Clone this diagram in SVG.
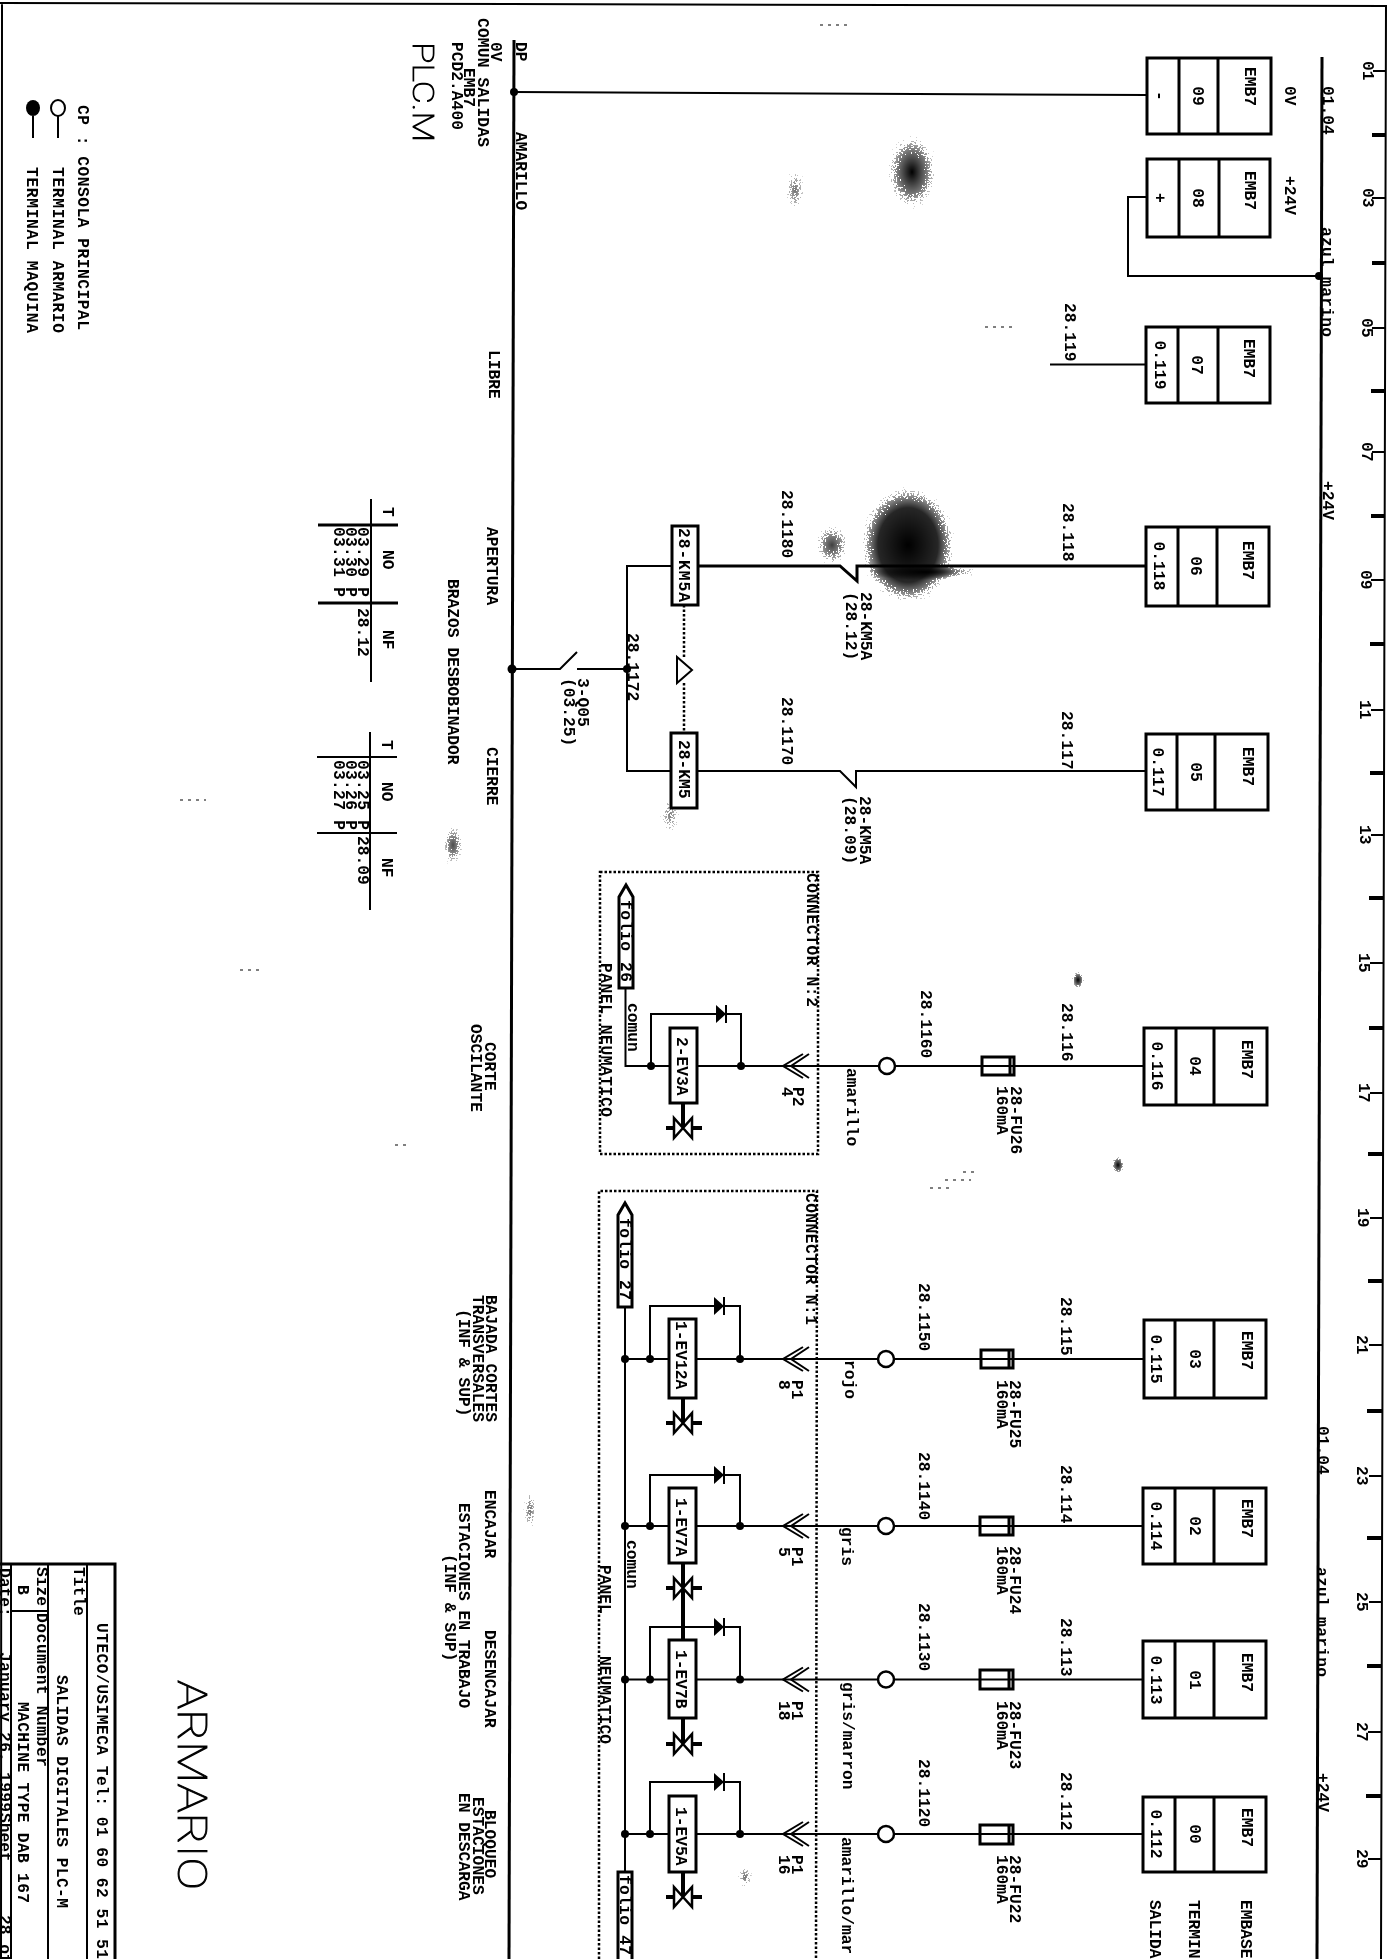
<svg xmlns="http://www.w3.org/2000/svg" width="1390" height="1959" viewBox="0 0 1390 1959">
<style>
text{font-family:"Liberation Mono","DejaVu Sans Mono",monospace;font-size:16.3px;font-weight:700;fill:#000}
.m{text-anchor:middle}
.thin{font-family:Roboto,"Liberation Sans",sans-serif;font-weight:100;stroke:#000;stroke-width:.9px}
path,line,rect,polygon,circle,ellipse{stroke:#000;fill:none}
.w{stroke-width:2}
.h{stroke-width:3}
.tk{stroke-width:4}
.bx{stroke-width:3;fill:#fff}
.d{stroke-width:2.5;stroke-dasharray:2.5 2}
.dot{fill:#000;stroke:none}
.ring{fill:#fff;stroke-width:2.5}
.bl{fill:#000;stroke:none}
.sp{stroke:none}
.n{stroke-width:1.2;stroke-dasharray:3 5}
</style>
<defs>
<radialGradient id="g"><stop offset="0" stop-color="#000" stop-opacity="1"/><stop offset=".5" stop-color="#000" stop-opacity=".55"/><stop offset="1" stop-color="#000" stop-opacity="0"/></radialGradient>
<radialGradient id="g2"><stop offset="0" stop-color="#000" stop-opacity="1"/><stop offset=".6" stop-color="#000" stop-opacity=".85"/><stop offset="1" stop-color="#000" stop-opacity="0"/></radialGradient>
<filter id="speck" x="-10%" y="-10%" width="120%" height="120%" color-interpolation-filters="sRGB">
<feTurbulence type="fractalNoise" baseFrequency="0.55" numOctaves="2" seed="4" result="n"/>
<feComposite in="SourceAlpha" in2="n" operator="arithmetic" k1="0" k2="1" k3="1" k4="0" result="a"/>
<feComponentTransfer in="a"><feFuncR type="linear" slope="0"/><feFuncG type="linear" slope="0"/><feFuncB type="linear" slope="0"/><feFuncA type="discrete" tableValues="0 0 0 0 0 0 0 0 0 1"/></feComponentTransfer>
<feComposite in2="SourceAlpha" operator="in"/>
</filter>
<g id="valve"><line class="tk" x1="-17" y1="0" x2="19" y2="0"/><polygon points="-9,-10 9,10 9,-10 -9,10" fill="#fff" stroke-width="2.5" style="fill:#fff"/></g>
<g id="chev"><path class="w" d="M20,-12 L0,0 L20,12 M26,-12 L8,0 L26,12"/></g>
</defs>
<rect width="1390" height="1959" style="fill:#fff;stroke:none"/>

<g id="speckle" filter="url(#speck)">
<ellipse class="sp" cx="912" cy="172" rx="28" ry="42" style="fill:url(#g)"/>
<ellipse class="sp" cx="908" cy="545" rx="50" ry="62" style="fill:url(#g2)"/>
<ellipse class="sp" cx="925" cy="572" rx="60" ry="8" style="fill:url(#g)"/>
<ellipse class="sp" cx="832" cy="545" rx="20" ry="24" style="fill:url(#g);opacity:.75"/>
<ellipse class="sp" cx="453" cy="845" rx="12" ry="24" style="fill:url(#g);opacity:.7"/>
<ellipse class="sp" cx="1078" cy="980" rx="7" ry="10" style="fill:url(#g)"/>
<ellipse class="sp" cx="1118" cy="1165" rx="7" ry="10" style="fill:url(#g)"/>
<ellipse class="sp" cx="795" cy="190" rx="12" ry="26" style="fill:url(#g);opacity:.55"/>
<ellipse class="sp" cx="670" cy="815" rx="12" ry="24" style="fill:url(#g);opacity:.5"/>
<ellipse class="sp" cx="530" cy="1510" rx="8" ry="26" style="fill:url(#g);opacity:.55"/>
<ellipse class="sp" cx="745" cy="1877" rx="9" ry="14" style="fill:url(#g);opacity:.55"/>
</g>
<g id="specks">
<path class="n" d="M820,25h30M985,327h30M930,1188h22M945,1180h26M963,1172h12M180,800h26M240,970h22M395,1145h12"/>
</g>

<g id="frame">
<path class="w" d="M0,3 L1387,6 M2,3 L1,1959 M1386,5 L1381,1959"/>
<g id="ruler">
<path class="w" d="M1373,71H1386M1372,198H1385M1372,328H1385M1372,452H1385M1371,580H1384M1371,710H1384M1371,835H1384M1370,963H1383M1370,1093H1383M1370,1218H1383M1369,1345H1382M1369,1476H1382M1369,1602H1382M1368,1732H1381M1368,1859H1381"/>
<path class="tk" d="M1372,135H1386M1372,263H1385M1371,391H1385M1371,516H1385M1370,644H1384M1370,773H1384M1369,898H1384M1369,1028H1383M1368,1154H1383M1368,1281H1383M1367,1411H1382M1367,1538H1382M1367,1666H1382M1366,1796H1381"/>
<text x="1363" y="61" transform="rotate(90 1363 61)">01</text>
<text x="1363" y="188" transform="rotate(90 1363 188)">03</text>
<text x="1362" y="318" transform="rotate(90 1362 318)">05</text>
<text x="1362" y="442" transform="rotate(90 1362 442)">07</text>
<text x="1361" y="570" transform="rotate(90 1361 570)">09</text>
<text x="1360" y="700" transform="rotate(90 1360 700)">11</text>
<text x="1360" y="825" transform="rotate(90 1360 825)">13</text>
<text x="1359" y="953" transform="rotate(90 1359 953)">15</text>
<text x="1359" y="1083" transform="rotate(90 1359 1083)">17</text>
<text x="1358" y="1208" transform="rotate(90 1358 1208)">19</text>
<text x="1357" y="1335" transform="rotate(90 1357 1335)">21</text>
<text x="1357" y="1466" transform="rotate(90 1357 1466)">23</text>
<text x="1357" y="1592" transform="rotate(90 1357 1592)">25</text>
<text x="1357" y="1722" transform="rotate(90 1357 1722)">27</text>
<text x="1357" y="1849" transform="rotate(90 1357 1849)">29</text>
</g>
</g>

<g id="connectors">
<path class="h" d="M1322,57 L1317,1959"/>
<path class="h" d="M514,40 L509,1959"/>
<path class="w" d="M514,92 L1147,95"/>
<path class="w" d="M1319,276 H1128 V197 H1147"/>
<path class="w" d="M1050,364.5 H1146"/>
<path class="h" d="M1146,566 H857 V581 L840,566 H698"/>
<path class="w" d="M672,566 H627 V771 H671"/>
<path class="w" d="M1146,771 H856 V787 L840,771 H697"/>
<path class="w" d="M511,669 H560 L577,652 M577,669 H627"/>
<path class="d" d="M684,605 V657 M684,683 V733"/>
<polygon class="w" points="677,657 677,683 692,670"/>
<path class="w" d="M1144,1066 H783 M1144,1359 H783 M1143,1526 H783 M1143,1679.5 H783 M1143,1834 H783"/>
<path class="w" d="M783,1066 H625.5 V988"/>
<path class="w" d="M625,1307 V1872"/>
<path class="w" d="M783,1359 H625 M783,1526 H625 M783,1679.5 H625 M783,1834 H625"/>
<path class="w" d="M651,1066 V1014 H741 V1066 M650,1359 V1306 H740 V1359 M650,1526 V1475 H740 V1526 M650,1679.5 V1627 H740 V1679.5 M650,1834 V1782 H740 V1834"/>
<path class="tk" d="M683,1103V1128 M683,1398V1423 M683,1563V1640 M683,1718V1744 M683,1872V1897"/>
<path class="d" d="M600,872 H818 V1154 H600 Z"/>
<path class="d" d="M599,1959 V1191 H817 L816,1959"/>
</g>

<g id="node-09"><rect class="bx" x="1147" y="58" width="124" height="76"/><path class="h" d="M1179,58V134M1218,58V134"/><text x="1155" y="96" class="m" transform="rotate(90 1155 96)">-</text><text x="1193" y="96" class="m" transform="rotate(90 1193 96)">09</text><text x="1245" y="67" transform="rotate(90 1245 67)">EMB7</text></g>
<g id="node-08"><rect class="bx" x="1147" y="159" width="123" height="78"/><path class="h" d="M1179,159V237M1219,159V237"/><text x="1155" y="198" class="m" transform="rotate(90 1155 198)">+</text><text x="1193" y="198" class="m" transform="rotate(90 1193 198)">08</text><text x="1245" y="171" transform="rotate(90 1245 171)">EMB7</text></g>
<g id="node-07"><rect class="bx" x="1146" y="327" width="124" height="76"/><path class="h" d="M1178,327V403M1218,327V403"/><text x="1155" y="365" class="m" transform="rotate(90 1155 365)">0.119</text><text x="1192" y="365" class="m" transform="rotate(90 1192 365)">07</text><text x="1244" y="339" transform="rotate(90 1244 339)">EMB7</text></g>
<g id="node-06"><rect class="bx" x="1146" y="527" width="123" height="79"/><path class="h" d="M1178,527V606M1217,527V606"/><text x="1154" y="566" class="m" transform="rotate(90 1154 566)">0.118</text><text x="1191" y="566" class="m" transform="rotate(90 1191 566)">06</text><text x="1243" y="541" transform="rotate(90 1243 541)">EMB7</text></g>
<g id="node-05"><rect class="bx" x="1146" y="734" width="122" height="76"/><path class="h" d="M1177,734V810M1215,734V810"/><text x="1153" y="772" class="m" transform="rotate(90 1153 772)">0.117</text><text x="1191" y="772" class="m" transform="rotate(90 1191 772)">05</text><text x="1243" y="747" transform="rotate(90 1243 747)">EMB7</text></g>
<g id="node-04"><rect class="bx" x="1144" y="1028" width="123" height="77"/><path class="h" d="M1176,1028V1105M1214,1028V1105"/><text x="1152" y="1066" class="m" transform="rotate(90 1152 1066)">0.116</text><text x="1190" y="1066" class="m" transform="rotate(90 1190 1066)">04</text><text x="1242" y="1040" transform="rotate(90 1242 1040)">EMB7</text></g>
<g id="node-03"><rect class="bx" x="1144" y="1320" width="122" height="78"/><path class="h" d="M1175,1320V1398M1214,1320V1398"/><text x="1151" y="1359" class="m" transform="rotate(90 1151 1359)">0.115</text><text x="1190" y="1359" class="m" transform="rotate(90 1190 1359)">03</text><text x="1242" y="1331" transform="rotate(90 1242 1331)">EMB7</text></g>
<g id="node-02"><rect class="bx" x="1143" y="1488" width="123" height="76"/><path class="h" d="M1175,1488V1564M1214,1488V1564"/><text x="1151" y="1526" class="m" transform="rotate(90 1151 1526)">0.114</text><text x="1190" y="1526" class="m" transform="rotate(90 1190 1526)">02</text><text x="1242" y="1499" transform="rotate(90 1242 1499)">EMB7</text></g>
<g id="node-01"><rect class="bx" x="1143" y="1641" width="123" height="77"/><path class="h" d="M1175,1641V1718M1214,1641V1718"/><text x="1151" y="1680" class="m" transform="rotate(90 1151 1680)">0.113</text><text x="1190" y="1680" class="m" transform="rotate(90 1190 1680)">01</text><text x="1242" y="1653" transform="rotate(90 1242 1653)">EMB7</text></g>
<g id="node-00"><rect class="bx" x="1143" y="1797" width="123" height="75"/><path class="h" d="M1175,1797V1872M1214,1797V1872"/><text x="1151" y="1834" class="m" transform="rotate(90 1151 1834)">0.112</text><text x="1190" y="1834" class="m" transform="rotate(90 1190 1834)">00</text><text x="1242" y="1808" transform="rotate(90 1242 1808)">EMB7</text></g>

<g id="fuses">
<rect class="bx" x="982" y="1057" width="32" height="18"/><path class="h" d="M1010,1057V1075"/>
<rect class="bx" x="981" y="1350" width="32" height="18"/><path class="h" d="M1009,1350V1368"/>
<rect class="bx" x="980" y="1517" width="33" height="18"/><path class="h" d="M1009,1517V1535"/>
<rect class="bx" x="980" y="1670" width="33" height="19"/><path class="h" d="M1009,1670V1689"/>
<rect class="bx" x="980" y="1825" width="33" height="19"/><path class="h" d="M1009,1825V1844"/>
<path class="w" d="M982,1066H1014M981,1359H1013M980,1526H1013M980,1679.5H1013M980,1834H1013"/>
<text x="1011" y="1086" transform="rotate(90 1011 1086)">28-FU26</text><text x="997" y="1086" transform="rotate(90 997 1086)">160mA</text>
<text x="1010" y="1380" transform="rotate(90 1010 1380)">28-FU25</text><text x="997" y="1380" transform="rotate(90 997 1380)">160mA</text>
<text x="1010" y="1546" transform="rotate(90 1010 1546)">28-FU24</text><text x="997" y="1546" transform="rotate(90 997 1546)">160mA</text>
<text x="1010" y="1701" transform="rotate(90 1010 1701)">28-FU23</text><text x="997" y="1701" transform="rotate(90 997 1701)">160mA</text>
<text x="1010" y="1855" transform="rotate(90 1010 1855)">28-FU22</text><text x="997" y="1855" transform="rotate(90 997 1855)">160mA</text>
</g>

<g id="terminals">
<circle class="ring" cx="887" cy="1066" r="8"/><circle class="ring" cx="886" cy="1359" r="8"/><circle class="ring" cx="886" cy="1526" r="8"/><circle class="ring" cx="886" cy="1679.5" r="8"/><circle class="ring" cx="886" cy="1834" r="8"/>
<use href="#chev" x="783" y="1066"/><use href="#chev" x="783" y="1359"/><use href="#chev" x="783" y="1526"/><use href="#chev" x="783" y="1679.5"/><use href="#chev" x="783" y="1834"/>
</g>

<g id="dots">
<circle class="dot" cx="1319" cy="276" r="4"/><circle class="dot" cx="514" cy="92" r="4"/><circle class="dot" cx="512" cy="669" r="4.5"/><circle class="dot" cx="627" cy="669" r="4"/>
<circle class="dot" cx="741" cy="1066" r="4"/><circle class="dot" cx="651" cy="1066" r="4"/>
<circle class="dot" cx="740" cy="1359" r="4"/><circle class="dot" cx="650" cy="1359" r="4"/><circle class="dot" cx="625" cy="1359" r="4"/>
<circle class="dot" cx="740" cy="1526" r="4"/><circle class="dot" cx="650" cy="1526" r="4"/><circle class="dot" cx="625" cy="1526" r="4"/>
<circle class="dot" cx="740" cy="1679.5" r="4"/><circle class="dot" cx="650" cy="1679.5" r="4"/><circle class="dot" cx="625" cy="1679.5" r="4"/>
<circle class="dot" cx="740" cy="1834" r="4"/><circle class="dot" cx="650" cy="1834" r="4"/><circle class="dot" cx="625" cy="1834" r="4"/>
</g>

<g id="coil-km5a"><rect class="bx" x="672" y="526" width="26" height="79"/><text x="679" y="528" transform="rotate(90 679 528)" textLength="74">28-KM5A</text></g>
<g id="coil-km5"><rect class="bx" x="671" y="733" width="26" height="75"/><text x="679" y="740" transform="rotate(90 679 740)">28-KM5</text></g>
<g id="ev-2ev3a"><rect class="bx" x="670" y="1028" width="27" height="75"/><text x="677" y="1037" transform="rotate(90 677 1037)">2-EV3A</text><polygon class="bl" points="716,1005 726,1014 716,1023"/><path class="w" d="M726,1005V1023"/><use href="#valve" x="683" y="1128"/></g>
<g id="ev-1ev12a"><rect class="bx" x="669" y="1319" width="27" height="79"/><text x="676" y="1321" transform="rotate(90 676 1321)">1-EV12A</text><polygon class="bl" points="714,1297 724,1306 714,1315"/><path class="w" d="M724,1297V1315"/><use href="#valve" x="683" y="1423"/></g>
<g id="ev-1ev7a"><rect class="bx" x="669" y="1488" width="27" height="75"/><text x="676" y="1498" transform="rotate(90 676 1498)">1-EV7A</text><polygon class="bl" points="714,1466 724,1475 714,1484"/><path class="w" d="M724,1466V1484"/><use href="#valve" x="683" y="1588"/></g>
<g id="ev-1ev7b"><rect class="bx" x="669" y="1640" width="27" height="78"/><text x="676" y="1650" transform="rotate(90 676 1650)">1-EV7B</text><polygon class="bl" points="714,1618 724,1627 714,1636"/><path class="w" d="M724,1618V1636"/><use href="#valve" x="683" y="1744"/></g>
<g id="ev-1ev5a"><rect class="bx" x="669" y="1796" width="27" height="76"/><text x="676" y="1807" transform="rotate(90 676 1807)">1-EV5A</text><polygon class="bl" points="714,1773 724,1782 714,1791"/><path class="w" d="M724,1773V1791"/><use href="#valve" x="683" y="1897"/></g>

<g id="folio-26"><polygon class="bx" points="619,988 619,897 626,885 633,897 633,988"/><text x="621" y="900" transform="rotate(90 621 900)" textLength="82">folio 26</text></g>
<g id="folio-27"><polygon class="bx" points="618,1307 618,1215 625,1203 632,1215 632,1307"/><text x="620" y="1218" transform="rotate(90 620 1218)" textLength="82">folio 27</text></g>
<g id="folio-47"><path class="bx" d="M618,1959 V1872 H632 V1959"/><text x="620" y="1875" transform="rotate(90 620 1875)" textLength="80">folio 47</text></g>

<g id="labels">
<text x="1065" y="303" transform="rotate(90 1065 303)">28.119</text>
<text x="1063" y="503" transform="rotate(90 1063 503)">28.118</text>
<text x="1062" y="711" transform="rotate(90 1062 711)">28.117</text>
<text x="1062" y="1003" transform="rotate(90 1062 1003)">28.116</text>
<text x="1061" y="1297" transform="rotate(90 1061 1297)">28.115</text>
<text x="1061" y="1465" transform="rotate(90 1061 1465)">28.114</text>
<text x="1061" y="1618" transform="rotate(90 1061 1618)">28.113</text>
<text x="1061" y="1772" transform="rotate(90 1061 1772)">28.112</text>
<text x="782" y="490" transform="rotate(90 782 490)">28.1180</text>
<text x="782" y="697" transform="rotate(90 782 697)">28.1170</text>
<text x="921" y="990" transform="rotate(90 921 990)">28.1160</text>
<text x="919" y="1283" transform="rotate(90 919 1283)">28.1150</text>
<text x="919" y="1452" transform="rotate(90 919 1452)">28.1140</text>
<text x="919" y="1603" transform="rotate(90 919 1603)">28.1130</text>
<text x="919" y="1759" transform="rotate(90 919 1759)">28.1120</text>
<text x="628" y="633" transform="rotate(90 628 633)">28.1172</text>
<text x="578" y="678" transform="rotate(90 578 678)">3-Q05</text>
<text x="564" y="678" transform="rotate(90 564 678)">(03.25)</text>
<text x="861" y="592" transform="rotate(90 861 592)">28-KM5A</text>
<text x="846" y="592" transform="rotate(90 846 592)">(28.12)</text>
<text x="860" y="796" transform="rotate(90 860 796)">28-KM5A</text>
<text x="845" y="796" transform="rotate(90 845 796)">(28.09)</text>
<text x="807" y="873" transform="rotate(90 807 873)" textLength="134">CONNECTOR N:2</text>
<text x="806" y="1193" transform="rotate(90 806 1193)" textLength="132">CONNECTOR N:1</text>
<text x="601" y="963" transform="rotate(90 601 963)" textLength="154">PANEL NEUMATICO</text>
<text x="600" y="1565" transform="rotate(90 600 1565)">PANEL</text>
<text x="600" y="1656" transform="rotate(90 600 1656)">NEUMATICO</text>
<text x="628" y="1003" transform="rotate(90 628 1003)">comun</text>
<text x="627" y="1540" transform="rotate(90 627 1540)">comun</text>
<text x="793" y="1087" transform="rotate(90 793 1087)">P2</text><text x="782" y="1087" transform="rotate(90 782 1087)">4</text>
<text x="792" y="1380" transform="rotate(90 792 1380)">P1</text><text x="779" y="1380" transform="rotate(90 779 1380)">8</text>
<text x="792" y="1547" transform="rotate(90 792 1547)">P1</text><text x="779" y="1547" transform="rotate(90 779 1547)">5</text>
<text x="792" y="1701" transform="rotate(90 792 1701)">P1</text><text x="779" y="1701" transform="rotate(90 779 1701)">18</text>
<text x="792" y="1855" transform="rotate(90 792 1855)">P1</text><text x="779" y="1855" transform="rotate(90 779 1855)">16</text>
<text x="847" y="1068" transform="rotate(90 847 1068)">amarillo</text>
<text x="845" y="1360" transform="rotate(90 845 1360)">rojo</text>
<text x="842" y="1527" transform="rotate(90 842 1527)">gris</text>
<text x="843" y="1682" transform="rotate(90 843 1682)">gris/marron</text>
<text x="842" y="1837" transform="rotate(90 842 1837)">amarillo/mar</text>
<text x="1285" y="86" transform="rotate(90 1285 86)">0V</text>
<text x="1285" y="176" transform="rotate(90 1285 176)">+24V</text>
<text x="1323" y="86" transform="rotate(90 1323 86)">01.04</text>
<text x="1322" y="227" transform="rotate(90 1322 227)" textLength="110">azul marino</text>
<text x="1323" y="481" transform="rotate(90 1323 481)">+24V</text>
<text x="1318" y="1426" transform="rotate(90 1318 1426)">01.04</text>
<text x="1317" y="1567" transform="rotate(90 1317 1567)" textLength="110">azul marino</text>
<text x="1318" y="1773" transform="rotate(90 1318 1773)">+24V</text>
<text x="1241" y="1900" transform="rotate(90 1241 1900)">EMBASE</text>
<text x="1189" y="1900" transform="rotate(90 1189 1900)">TERMIN</text>
<text x="1150" y="1900" transform="rotate(90 1150 1900)">SALIDA</text>

<text x="516" y="42" transform="rotate(90 516 42)">DP</text>
<text x="516" y="132" transform="rotate(90 516 132)">AMARILLO</text>
<text x="491" y="42" transform="rotate(90 491 42)">0V</text>
<text x="477.5" y="18" transform="rotate(90 477.5 18)" textLength="129">COMUN SALIDAS</text>
<text x="464" y="68" transform="rotate(90 464 68)">EMB7</text>
<text x="452" y="42" transform="rotate(90 452 42)">PCD2.A400</text>
<text x="413" y="42" class="thin" style="font-size:30px" transform="rotate(90 413 42)" textLength="100" lengthAdjust="spacingAndGlyphs">PLC.M</text>
<text x="489" y="350" transform="rotate(90 489 350)">LIBRE</text>
<text x="487" y="527" transform="rotate(90 487 527)">APERTURA</text>
<text x="487" y="747" transform="rotate(90 487 747)">CIERRE</text>
<text x="448" y="579" transform="rotate(90 448 579)">BRAZOS DESBOBINADOR</text>
<text x="485" y="1042" transform="rotate(90 485 1042)">CORTE</text>
<text x="471" y="1024" transform="rotate(90 471 1024)">OSCILANTE</text>
<text x="486" y="1295" transform="rotate(90 486 1295)">BAJADA CORTES</text>
<text x="473" y="1295" transform="rotate(90 473 1295)">TRANSVERSALES</text>
<text x="459" y="1309" transform="rotate(90 459 1309)">(INF &amp; SUP)</text>
<text x="485" y="1490" transform="rotate(90 485 1490)">ENCAJAR</text>
<text x="459" y="1503" transform="rotate(90 459 1503)">ESTACIONES EN TRABAJO</text>
<text x="445" y="1554" transform="rotate(90 445 1554)">(INF &amp; SUP)</text>
<text x="485" y="1630" transform="rotate(90 485 1630)">DESENCAJAR</text>
<text x="485" y="1810" transform="rotate(90 485 1810)">BLOQUEO</text>
<text x="473" y="1797" transform="rotate(90 473 1797)">ESTACIONES</text>
<text x="459" y="1793" transform="rotate(90 459 1793)">EN DESCARGA</text>
<text x="178" y="1680" class="thin" style="font-size:40px" transform="rotate(90 178 1680)" textLength="210" lengthAdjust="spacingAndGlyphs">ARMARIO</text>
</g>

<g id="table-28-12">
<path class="w" d="M371,499V682"/><path class="h" d="M318,525H398M318,603H398"/>
<text x="383" y="507" transform="rotate(90 383 507)">T</text><text x="383" y="550" transform="rotate(90 383 550)">NO</text><text x="383" y="630" transform="rotate(90 383 630)">NF</text>
<text x="358" y="527" transform="rotate(90 358 527)" textLength="70">03.29 P</text><text x="346" y="527" transform="rotate(90 346 527)" textLength="70">03.30 P</text><text x="334" y="527" transform="rotate(90 334 527)" textLength="70">03.31 P</text>
<text x="358" y="608" transform="rotate(90 358 608)">28.12</text>
</g>
<g id="table-28-09">
<path class="w" d="M370,732V910"/><path class="w" d="M317,757H397M317,833H397"/>
<text x="382" y="740" transform="rotate(90 382 740)">T</text><text x="382" y="782" transform="rotate(90 382 782)">NO</text><text x="382" y="858" transform="rotate(90 382 858)">NF</text>
<text x="358" y="760" transform="rotate(90 358 760)" textLength="70">03.25 P</text><text x="346" y="760" transform="rotate(90 346 760)" textLength="70">03.26 P</text><text x="334" y="760" transform="rotate(90 334 760)" textLength="70">03.27 P</text>
<text x="358" y="836" transform="rotate(90 358 836)">28.09</text>
</g>

<g id="legend">
<text x="78" y="105" transform="rotate(90 78 105)" textLength="225">CP : CONSOLA PRINCIPAL</text>
<ellipse class="w" cx="58" cy="108" rx="7" ry="8"/><path class="w" d="M58,116V138"/>
<text x="53" y="167" transform="rotate(90 53 167)" textLength="166">TERMINAL ARMARIO</text>
<ellipse cx="33" cy="108" rx="7" ry="8" style="fill:#000;stroke:none"/><path class="w" d="M33,116V138"/>
<text x="27" y="167" transform="rotate(90 27 167)" textLength="166">TERMINAL MAQUINA</text>
</g>

<g id="title-block">
<path class="h" d="M0,1564H115V1959"/>
<path class="w" d="M87,1564V1959M48,1564V1959M11,1564V1959M11,1611H48"/>
<text x="97" y="1623" transform="rotate(90 97 1623)" textLength="336">UTECO/USIMECA Tel: 01 60 62 51 51</text>
<text x="74" y="1567" transform="rotate(90 74 1567)">Title</text>
<text x="57" y="1675" transform="rotate(90 57 1675)" textLength="233">SALIDAS DIGITALES PLC-M</text>
<text x="37" y="1567" transform="rotate(90 37 1567)">Size</text>
<text x="37" y="1613" transform="rotate(90 37 1613)" textLength="154">Document Number</text>
<text x="18" y="1585" transform="rotate(90 18 1585)">B</text>
<text x="18" y="1702" transform="rotate(90 18 1702)" textLength="201">MACHINE TYPE DAB 167</text>
<text x="0" y="1568" transform="rotate(90 0 1568)">Date:</text>
<text x="0" y="1652" transform="rotate(90 0 1652)" textLength="160">January 26, 1999</text>
<text x="0" y="1813" transform="rotate(90 0 1813)">Sheet</text>
<text x="0" y="1915" transform="rotate(90 0 1915)">28 of</text>
</g>
</svg>
